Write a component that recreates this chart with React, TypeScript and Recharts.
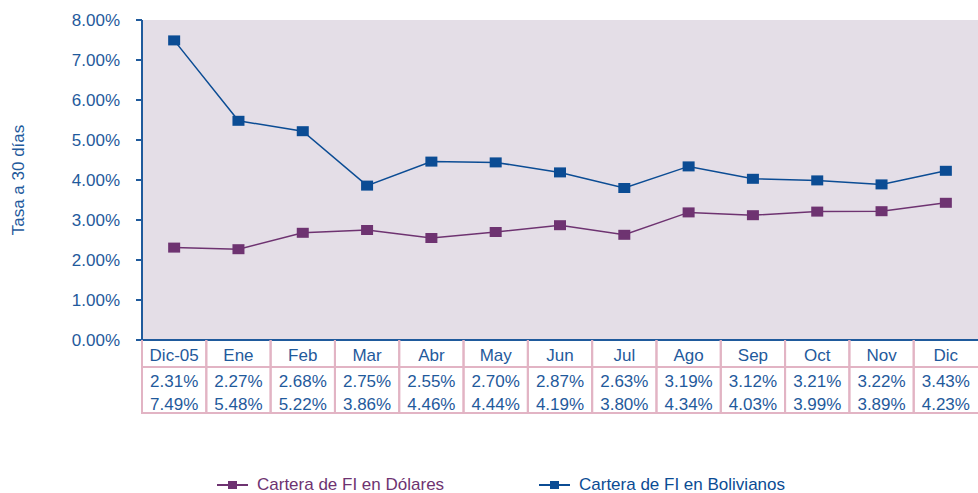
import React from 'react';
import { LineChart, Line, XAxis, YAxis, CartesianGrid } from 'recharts';

const categories = ['Dic-05', 'Ene', 'Feb', 'Mar', 'Abr', 'May', 'Jun', 'Jul', 'Ago', 'Sep', 'Oct', 'Nov', 'Dic'];
const dolares = [2.31, 2.27, 2.68, 2.75, 2.55, 2.70, 2.87, 2.63, 3.19, 3.12, 3.21, 3.22, 3.43];
const bolivianos = [7.49, 5.48, 5.22, 3.86, 4.46, 4.44, 4.19, 3.80, 4.34, 4.03, 3.99, 3.89, 4.23];
const yTicks = [0, 1, 2, 3, 4, 5, 6, 7, 8];
const seriesNames = ['Cartera de FI en Dólares', 'Cartera de FI en Bolivianos'];

const data = categories.map((c, i) => ({ name: c, dol: dolares[i], bol: bolivianos[i] }));

const BLUE = '#0B4C94';
const PURPLE = '#6E3371';
const TEXT = '#1F5A9C';
const PINK = '#E2B4C4';
const FONT = '"Liberation Sans", Arial, sans-serif';

const W = 978;
const H = 493;
const PLOT_LEFT = 142;
const PLOT_RIGHT = 978;
const COL_W = (PLOT_RIGHT - PLOT_LEFT) / categories.length;

const fmt = (v: number) => v.toFixed(2) + '%';

const TableTick = (props: any) => {
  const { x, y, payload, index } = props;
  const i = index ?? payload.index;
  const left = x - COL_W / 2;
  const right = x + COL_W / 2;
  return (
    <g>
      <line x1={left} y1={y} x2={left} y2={y + 74} stroke={PINK} strokeWidth={2} />
      {i === categories.length - 1 ? null : (
        <line x1={right} y1={y} x2={right} y2={y + 74} stroke={PINK} strokeWidth={2} />
      )}
      <line x1={left} y1={y + 27} x2={right} y2={y + 27} stroke={PINK} strokeWidth={2} />
      <line x1={left} y1={y + 73} x2={right} y2={y + 73} stroke={PINK} strokeWidth={2} />
      <text x={x} y={y + 21} textAnchor="middle" fill={TEXT} fontSize={17} fontFamily={FONT}>
        {payload.value}
      </text>
      <text x={x} y={y + 47} textAnchor="middle" fill={TEXT} fontSize={17} fontFamily={FONT}>
        {fmt(dolares[i])}
      </text>
      <text x={x} y={y + 70} textAnchor="middle" fill={TEXT} fontSize={17} fontFamily={FONT}>
        {fmt(bolivianos[i])}
      </text>
    </g>
  );
};

const makeDot = (color: string) => (props: any) => {
  const { cx, cy, index } = props;
  if (cx == null || cy == null) return <g key={index} />;
  return <rect key={index} x={cx - 6} y={cy - 5} width={12} height={10} fill={color} />;
};

const LegendItem = ({ label, color, left }: { label: string; color: string; left: number }) => (
  <div style={{ position: 'absolute', left, top: 475, display: 'flex', alignItems: 'center', height: 20 }}>
    <svg width={32} height={12} style={{ marginRight: 8 }}>
      <line x1={0} y1={6} x2={31} y2={6} stroke={color} strokeWidth={2} />
      <rect x={11} y={2} width={9} height={8} fill={color} />
    </svg>
    <span style={{ color, fontSize: 17, fontFamily: FONT, lineHeight: '20px' }}>{label}</span>
  </div>
);

export default function App() {
  return (
    <div style={{ position: 'fixed', left: 0, top: 0, width: W, height: H, background: '#fff', overflow: 'hidden' }}>
      <LineChart
        width={W}
        height={H}
        data={data}
        margin={{ top: 20, right: 0, left: 42, bottom: 79 }}
      >
        <CartesianGrid fill="#E4DEE7" horizontal={false} vertical={false} stroke="none" />
        <XAxis
          dataKey="name"
          scale="band"
          interval={0}
          height={74}
          tickLine={false}
          tickSize={0}
          tickMargin={0}
          axisLine={{ stroke: TEXT, strokeWidth: 2 }}
          tick={<TableTick />}
        />
        <YAxis
          width={100}
          domain={[0, 8]}
          ticks={yTicks}
          tickFormatter={fmt}
          axisLine={{ stroke: TEXT, strokeWidth: 2 }}
          tickLine={{ stroke: TEXT, strokeWidth: 2 }}
          tickSize={6}
          tickMargin={16}
          tick={{ fill: TEXT, fontSize: 17, fontFamily: FONT }}
          label={{
            value: 'Tasa a 30 días',
            angle: -90,
            position: 'insideLeft',
            offset: -24,
            style: { fill: TEXT, fontSize: 17, fontFamily: FONT, textAnchor: 'middle' },
          }}
        />
        <Line
          dataKey="dol"
          stroke={PURPLE}
          strokeWidth={1.5}
          dot={makeDot(PURPLE)}
          activeDot={false}
          isAnimationActive={false}
          name={seriesNames[0]}
        />
        <Line
          dataKey="bol"
          stroke={BLUE}
          strokeWidth={1.5}
          dot={makeDot(BLUE)}
          activeDot={false}
          isAnimationActive={false}
          name={seriesNames[1]}
        />
      </LineChart>
      <LegendItem label={seriesNames[0]} color={PURPLE} left={217} />
      <LegendItem label={seriesNames[1]} color={BLUE} left={539} />
    </div>
  );
}
